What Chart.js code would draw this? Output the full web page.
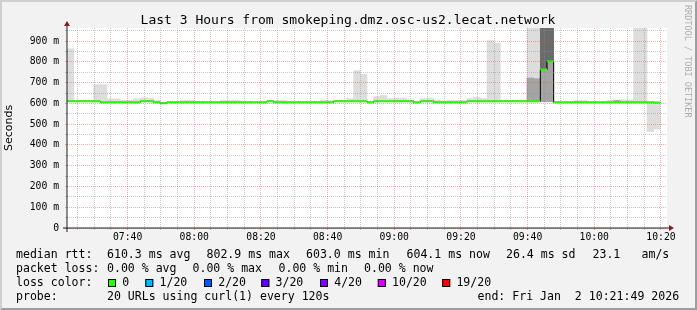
<!DOCTYPE html>
<html><head><meta charset="utf-8">
<script src="https://cdn.jsdelivr.net/npm/chart.js@4/dist/chart.umd.min.js"></script>
<style>html,body{margin:0;padding:0;background:#f2f2f2;}canvas{display:block;}</style>
</head><body>
<canvas id="c" width="697" height="310"></canvas>
<script>
// ---- categories: 2-minute RRD steps ----
const stepTimes = ("07:24 07:26 07:28 07:30 07:32 07:34 07:36 07:38 07:40 07:42 " +
  "07:44 07:46 07:48 07:50 07:52 07:54 07:56 07:58 08:00 08:02 " +
  "08:04 08:06 08:08 08:10 08:12 08:14 08:16 08:18 08:20 08:22 " +
  "08:24 08:26 08:28 08:30 08:32 08:34 08:36 08:38 08:40 08:42 " +
  "08:44 08:46 08:48 08:50 08:52 08:54 08:56 08:58 09:00 09:02 " +
  "09:04 09:06 09:08 09:10 09:12 09:14 09:16 09:18 09:20 09:22 " +
  "09:24 09:26 09:28 09:30 09:32 09:34 09:36 09:38 09:40 09:42 " +
  "09:44 09:46 09:48 09:50 09:52 09:54 09:56 09:58 10:00 10:02 " +
  "10:04 10:06 10:08 10:10 10:12 10:14 10:16 10:18 10:20 10:22").split(" ");

// ---- series (milliseconds) ----
const medianMs = [
  610,610,610,610,610,605,605,605,605,605,
  605,610,610,605,601,605,605,605,605,605,
  605,605,605,605,605,605,605,605,605,605,
  610,605,605,605,605,605,605,605,605,605,
  610,610,610,610,610,605,610,610,610,610,
  610,610,605,610,610,605,605,605,605,605,
  610,610,610,610,610,610,610,610,610,610,
  610,763,803,605,605,605,605,605,605,605,
  605,605,605,605,605,605,605,605,604,null];
const smokeMinMs = [
  608,608,608,608,608,603,603,603,603,603,
  603,608,608,603,599,603,603,603,603,603,
  603,603,603,603,603,603,603,603,603,603,
  608,603,603,603,603,603,603,603,603,603,
  608,608,608,608,608,603,608,608,608,608,
  608,608,603,608,608,603,603,603,603,603,
  608,608,608,608,608,608,608,608,608,608,
  608,608,608,603,603,603,603,603,603,603,
  603,603,603,603,603,603,603,465,477,null];
const smokeMaxMs = [
  863,612,612,612,690,690,622,622,615,615,
  622,627,625,615,603,607,607,614,614,607,
  607,607,607,614,614,614,607,607,607,607,
  614,614,614,607,607,607,607,607,614,614,
  612,612,623,757,741,607,633,638,623,625,
  625,615,607,623,623,617,610,614,614,614,
  623,629,623,902,890,615,612,612,612,1000,
  1000,1000,1000,607,607,607,614,614,607,607,
  607,614,617,617,617,1000,1000,606,606,null];
const midBandSteps = [69, 70, 71, 72, 82];
const midBandLowMs = [608, 608, 608, 608, 609];
const midBandHighMs = [722, 719, 763, 803, 614];
const darkBandSteps = [71, 72];
const darkBandLowMs = [763, 803];
const darkBandHighMs = [1000, 1000];

// ---- tick labels ----
const yTickValues = [0, 100, 200, 300, 400, 500, 600, 700, 800, 900];
const yTickLabels = ['0', '100 m', '200 m', '300 m', '400 m', '500 m', '600 m', '700 m', '800 m', '900 m'];
const timeTickValues = [460, 480, 500, 520, 540, 560, 580, 600, 620]; // minutes after midnight
const timeTickLabels = ['07:40', '08:00', '08:20', '08:40', '09:00', '09:20', '09:40', '10:00', '10:20'];
const startMin = 7 * 60 + 21 + 49 / 60;
const endMin = startMin + 180;
const yMax = 963;

// ---- texts ----
const titleText = 'Last 3 Hours from smokeping.dmz.osc-us2.lecat.network';
const rttStats = ['610.3 ms avg', '802.9 ms max', '603.0 ms min', '604.1 ms now', '26.4 ms sd', '23.1', 'am/s'];
const lossStats = ['0.00 % avg', '0.00 % max', '0.00 % min', '0.00 % now'];
const lossLabels = ['0', '1/20', '2/20', '3/20', '4/20', '10/20', '19/20'];
const lossColors = ['#26ff00', '#00b8ff', '#0059ff', '#5e00ff', '#7e00ff', '#dd00ff', '#ff0000'];
const probeText = '20 URLs using curl(1) every 120s';
const endText = 'end: Fri Jan  2 10:21:49 2026';

// ---- build library data ----
const N = stepTimes.length;
const stepW = (endMin - startMin) / N;
const lightBars = smokeMinMs.map((v, i) => (v == null || smokeMaxMs[i] == null) ? null : [v, smokeMaxMs[i]]);
const midBars = new Array(N).fill(null);
midBandSteps.forEach((k, j) => { midBars[k] = [midBandLowMs[j], midBandHighMs[j]]; });
const darkBars = new Array(N).fill(null);
darkBandSteps.forEach((k, j) => { darkBars[k] = [darkBandLowMs[j], darkBandHighMs[j]]; });
const greenSeg = [], blackStep = [];
let lastK = -1;
medianMs.forEach((m, k) => {
  if (m == null) return;
  const s = startMin + k * stepW;
  greenSeg.push({x: s, y: m}, {x: s + stepW, y: m}, {x: s + stepW, y: null});
  blackStep.push({x: s, y: m});
  lastK = k;
});
blackStep.push({x: startMin + (lastK + 1) * stepW, y: medianMs[lastK]});

const xGrid = [];
for (let v = Math.ceil(startMin / 5) * 5; v <= endMin; v += 5) xGrid.push(v);
const yGrid = [];
for (let v = 0; v < yMax; v += 50) yGrid.push(v);

const MAJOR = 'rgba(222,79,79,0.45)';
const MINOR = 'rgba(143,143,143,0.5)';
const MONO = 'DejaVu Sans Mono';

const rrdFrame = {
  id: 'rrdFrame',
  beforeDraw(chart) {
    const {ctx, chartArea: a} = chart;
    ctx.save();
    ctx.fillStyle = '#f2f2f2';
    ctx.fillRect(0, 0, chart.width, chart.height);
    ctx.fillStyle = '#ffffff';
    ctx.fillRect(a.left, a.top, a.right - a.left, a.bottom - a.top);
    ctx.restore();
  },
  afterDraw(chart) {
    const {ctx, chartArea: a} = chart;
    const W = chart.width, H = chart.height;
    ctx.save();
    // axes
    ctx.strokeStyle = 'rgb(31,31,31)';
    ctx.lineWidth = 1;
    ctx.beginPath();
    ctx.moveTo(a.left - 4, a.bottom); ctx.lineTo(a.right + 4, a.bottom);
    ctx.moveTo(a.left, a.bottom + 4); ctx.lineTo(a.left, a.top - 4);
    ctx.stroke();
    ctx.fillStyle = 'rgb(128,31,31)';
    ctx.beginPath();
    ctx.moveTo(a.right + 2, a.bottom - 3); ctx.lineTo(a.right + 2, a.bottom + 3); ctx.lineTo(a.right + 7, a.bottom);
    ctx.closePath(); ctx.fill();
    ctx.beginPath();
    ctx.moveTo(a.left - 3, a.top - 2); ctx.lineTo(a.left + 3, a.top - 2); ctx.lineTo(a.left, a.top - 7);
    ctx.closePath(); ctx.fill();

    // title
    ctx.fillStyle = '#000';
    ctx.textBaseline = 'alphabetic';
    ctx.font = '13px "' + MONO + '"';
    ctx.textAlign = 'center';
    ctx.fillText(titleText, 348, 24);

    // watermark
    ctx.save();
    ctx.translate(685, 5);
    ctx.rotate(Math.PI / 2);
    ctx.textAlign = 'left';
    ctx.font = '8.5px "' + MONO + '"';
    ctx.fillStyle = 'rgba(0,0,0,0.3)';
    ctx.fillText('RRDTOOL / TOBI OETIKER', 0, 0);
    ctx.restore();

    // legend
    ctx.textAlign = 'left';
    ctx.fillStyle = '#000';
    ctx.font = '11.56px "' + MONO + '"';
    const r1 = [107, 206.5, 306, 406.5, 506, 592.5, 641.5];
    ctx.fillText('median rtt:', 16, 258);
    rttStats.forEach((t, i) => ctx.fillText(t, r1[i], 258));
    const r2 = [107, 192.5, 278.5, 364];
    ctx.fillText('packet loss:', 16, 272);
    lossStats.forEach((t, i) => ctx.fillText(t, r2[i], 272));
    const r3 = [108, 145.3, 204, 261.3, 320, 377.8, 442.2];
    ctx.fillText('loss color:', 16, 286);
    lossLabels.forEach((t, i) => {
      ctx.fillStyle = lossColors[i];
      ctx.fillRect(r3[i], 279, 8, 8);
      ctx.strokeStyle = '#000';
      ctx.strokeRect(r3[i] + 0.5, 279.5, 7, 7);
      ctx.fillStyle = '#000';
      ctx.fillText(t, r3[i] + 14.2, 286);
    });
    ctx.fillText('probe:', 16, 300);
    ctx.fillText(probeText, 107, 300);
    ctx.fillText(endText, 477.5, 300);

    // 3d border
    ctx.fillStyle = '#cfcfcf';
    ctx.beginPath();
    ctx.moveTo(0, H); ctx.lineTo(2, H - 2); ctx.lineTo(2, 2); ctx.lineTo(W - 2, 2); ctx.lineTo(W, 0); ctx.lineTo(0, 0);
    ctx.closePath(); ctx.fill();
    ctx.fillStyle = '#9e9e9e';
    ctx.beginPath();
    ctx.moveTo(W, 0); ctx.lineTo(W - 2, 2); ctx.lineTo(W - 2, H - 2); ctx.lineTo(2, H - 2); ctx.lineTo(0, H); ctx.lineTo(W, H);
    ctx.closePath(); ctx.fill();
    ctx.restore();
  }
};

const barCommon = {type: 'bar', xAxisID: 'xc', yAxisID: 'y', borderWidth: 0, barPercentage: 1, categoryPercentage: 1, grouped: false, clip: 0};

new Chart(document.getElementById('c'), {
  type: 'bar',
  data: {
    labels: stepTimes,
    datasets: [
      {type: 'line', label: 'median', data: greenSeg, xAxisID: 'x', yAxisID: 'y', borderColor: '#26ff00', borderWidth: 2,
       pointRadius: 0, tension: 0, spanGaps: false, fill: false, borderCapStyle: 'butt', clip: 0},
      {type: 'line', label: 'median step', data: blackStep, xAxisID: 'x', yAxisID: 'y', borderColor: '#000000', borderWidth: 1,
       pointRadius: 0, stepped: 'before', fill: false, clip: 0},
      Object.assign({label: 'smoke dark', data: darkBars, backgroundColor: '#6b6b6b'}, barCommon),
      Object.assign({label: 'smoke mid', data: midBars, backgroundColor: '#a4a4a4'}, barCommon),
      Object.assign({label: 'smoke', data: lightBars, backgroundColor: '#dddddd'}, barCommon)
    ]
  },
  options: {
    responsive: false, animation: false, events: [],
    layout: {padding: {top: 28, right: 30, bottom: 0, left: 0}},
    plugins: {legend: {display: false}, tooltip: {enabled: false}, title: {display: false}},
    scales: {
      xc: {type: 'category', display: false, offset: true, grid: {offset: true}},
      x: {
        type: 'linear', position: 'bottom', min: startMin, max: endMin, offset: false,
        afterBuildTicks: ax => { ax.ticks = xGrid.map(v => ({value: v})); },
        afterFit: s => { s.height = 82; },
        grid: {offset: false, z: 1, lineWidth: 1, drawTicks: true, tickLength: 2,
               color: c => (c.tick && c.tick.value % 20 === 0) ? MAJOR : MINOR,
               tickColor: c => (c.tick && c.tick.value % 20 === 0) ? MAJOR : MINOR},
        border: {display: false, dash: [1, 1]},
        ticks: {autoSkip: false, maxRotation: 0, minRotation: 0, padding: 2, color: '#000',
                font: {family: MONO, size: 9.75},
                callback: v => { const i = timeTickValues.indexOf(v); return i >= 0 ? timeTickLabels[i] : ''; }}
      },
      y: {
        type: 'linear', min: 0, max: yMax,
        afterBuildTicks: ax => { ax.ticks = yGrid.map(v => ({value: v})); },
        afterFit: s => { s.width = 67; },
        grid: {z: 1, lineWidth: 1, drawTicks: true, tickLength: 2,
               color: c => (c.tick && c.tick.value % 100 === 0) ? MAJOR : MINOR,
               tickColor: c => (c.tick && c.tick.value % 100 === 0) ? MAJOR : MINOR},
        border: {display: false, dash: [1, 1]},
        ticks: {autoSkip: false, padding: 6, color: '#000', font: {family: MONO, size: 9.75},
                callback: v => { const i = yTickValues.indexOf(v); return i >= 0 ? yTickLabels[i] : ''; }},
        title: {display: true, text: 'Seconds', color: '#000', font: {family: 'DejaVu Sans', size: 11}, padding: {top: 3, bottom: 0}}
      }
    }
  },
  plugins: [rrdFrame]
});
</script>
</body></html>
